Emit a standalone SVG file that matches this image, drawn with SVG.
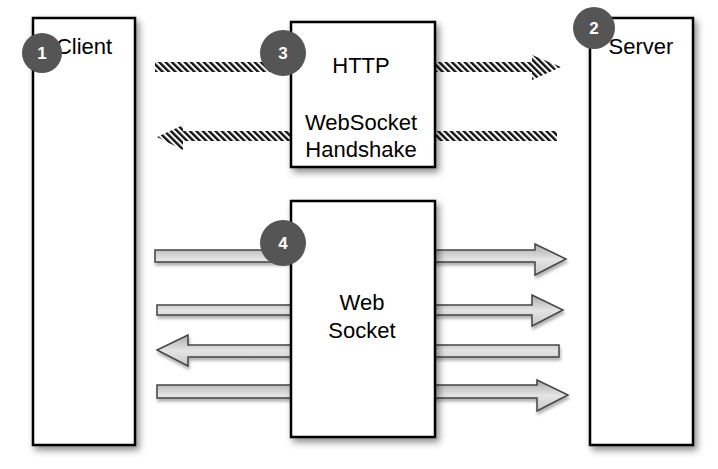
<svg xmlns="http://www.w3.org/2000/svg" width="718" height="469" viewBox="0 0 718 469">
<defs>
<style>
.box{fill:#fff;stroke:#000;stroke-width:2.5;filter:url(#sh)}
.lbl{font-family:"Liberation Sans",Arial,sans-serif;font-size:22px;fill:#000;text-anchor:middle}
.badge circle{fill:#555}
.badge text{font-family:"Liberation Sans",Arial,sans-serif;font-size:17px;font-weight:bold;fill:#fff;text-anchor:middle}
.hatch{fill:url(#hp)}
.arr{fill:url(#ag);stroke:#444;stroke-width:1.5;stroke-linejoin:miter;filter:url(#ash)}
</style>
<filter id="sh" x="-20%" y="-10%" width="150%" height="130%">
<feDropShadow dx="3" dy="4" stdDeviation="3.5" flood-color="#000" flood-opacity="0.45"/>
</filter>
<filter id="ash" x="-10%" y="-50%" width="120%" height="200%">
<feDropShadow dx="1" dy="3" stdDeviation="1.5" flood-color="#000" flood-opacity="0.3"/>
</filter>
<pattern id="hp" patternUnits="userSpaceOnUse" width="4.5" height="4.5" patternTransform="rotate(-45)">
<rect x="0" y="0" width="4.5" height="4.5" fill="#fff"/>
<rect x="0" y="0" width="2.4" height="4.5" fill="#111"/>
</pattern>
<linearGradient id="ag" x1="0" y1="0" x2="0" y2="1">
<stop offset="0" stop-color="#aaa"/>
<stop offset="0.5" stop-color="#e4e4e4"/>
<stop offset="1" stop-color="#c8c8c8"/>
</linearGradient>
</defs>
<rect width="718" height="469" fill="#fff"/>

<g id="connectors">
<polygon class="hatch" points="155,62 532,62 532,55 561,67 532,80 532,72 155,72"/>
<polygon class="hatch" points="557,131 183,131 183,125 157,137 183,150 183,141 557,141"/>
<polygon class="arr" points="155,250 535,250 535,244 566,259 535,275 535,262 155,262"/>
<polygon class="arr" points="157,305 532,305 532,295 563,310 532,326 532,315 157,315"/>
<polygon class="arr" points="559,345 188,345 188,335 157,350 188,366 188,357 559,357"/>
<polygon class="arr" points="157,385 537,385 537,380 568,395 537,411 537,398 157,398"/>
</g>

<g id="client">
<rect class="box" x="33" y="18" width="102" height="427"/>
<text class="lbl" x="84" y="54">Client</text>
</g>
<g id="server">
<rect class="box" x="590" y="18" width="103" height="427"/>
<text class="lbl" x="641" y="54">Server</text>
</g>
<g id="handshake">
<rect class="box" x="291" y="22" width="144" height="145"/>
<text class="lbl" x="361" y="73">HTTP</text>
<text class="lbl" x="361" y="130">WebSocket</text>
<text class="lbl" x="361" y="157">Handshake</text>
</g>
<g id="websocket">
<rect class="box" x="291" y="201" width="144" height="236"/>
<text class="lbl" x="362" y="310">Web</text>
<text class="lbl" x="362" y="338">Socket</text>
</g>

<g id="badge1" class="badge"><circle cx="42" cy="53" r="20"/><text x="42" y="59">1</text></g>
<g id="badge2" class="badge"><circle cx="594" cy="28" r="21"/><text x="594" y="34">2</text></g>
<g id="badge3" class="badge"><circle cx="283" cy="53" r="23"/><text x="283" y="59">3</text></g>
<g id="badge4" class="badge"><circle cx="283" cy="243" r="23"/><text x="283" y="249">4</text></g>
</svg>
